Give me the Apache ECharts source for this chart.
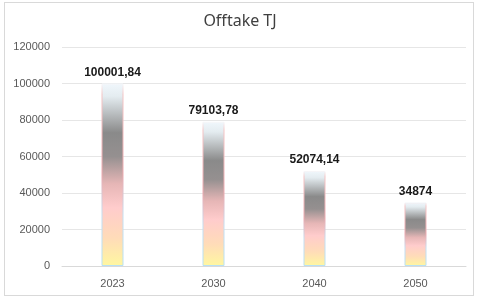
<!DOCTYPE html>
<html><head><meta charset="utf-8">
<script src="https://cdn.jsdelivr.net/npm/echarts@6/dist/echarts.min.js"></script>
<style>
html,body{margin:0;padding:0;background:#fff;}
#wrap{position:absolute;left:4px;top:2px;width:470px;height:294px;border:1px solid #d9d9d9;box-sizing:border-box;}
#c{position:absolute;left:0;top:0;width:480px;height:300px;}
</style></head>
<body>
<div id="wrap"></div>
<div id="c"></div>
<script>
const categories = ['2023','2030','2040','2050'];
const values = [100001.84, 79103.78, 52074.14, 34874];
const yTicks = [0, 20000, 40000, 60000, 80000, 100000, 120000];

const chart = echarts.init(document.getElementById('c'));
const barGrad = new echarts.graphic.LinearGradient(0,0,0,1,[
  {offset:0, color:'#f0f7fc'},
  {offset:0.07, color:'#e4ecf0'},
  {offset:0.27, color:'#8a8a8a'},
  {offset:0.40, color:'#959090'},
  {offset:0.55, color:'#e6b6b6'},
  {offset:0.68, color:'#ffcccc'},
  {offset:0.85, color:'#ffdcb8'},
  {offset:1, color:'#fff7a0'}
]);
const borderGrad = new echarts.graphic.LinearGradient(0,0,0,1,[
  {offset:0, color:'#f6fafd'},
  {offset:0.06, color:'#f4c4c4'},
  {offset:0.5, color:'#eeaab0'},
  {offset:0.72, color:'#c4e0f2'},
  {offset:1, color:'#b8e0f4'}
]);
chart.setOption({
  animation:false,
  title:{text:'Offtake TJ', left:'center', top:8,
    textStyle:{fontFamily:'Noto Sans', fontSize:16, fontWeight:'normal', color:'#404040'}},
  grid:{left:62, right:14, top:47, bottom:34},
  xAxis:{type:'category', data:categories,
    axisLine:{lineStyle:{color:'#d9d9d9', width:1}},
    axisTick:{show:false},
    axisLabel:{color:'#595959', fontFamily:'Liberation Sans', fontSize:11, margin:12}},
  yAxis:{type:'value', min:yTicks[0], max:yTicks[yTicks.length-1], interval:20000,
    axisLine:{show:false}, axisTick:{show:false},
    splitLine:{lineStyle:{color:'#e6e6e6', width:1}},
    axisLabel:{color:'#595959', fontFamily:'Liberation Sans', fontSize:11, margin:12,
      formatter:v=>String(v)}},
  series:[{type:'bar', data:values, barWidth:22,
    itemStyle:{color:barGrad, borderColor:borderGrad, borderWidth:1},
    label:{show:true, position:'top', distance:5,
      fontFamily:'Liberation Sans', fontWeight:'bold', fontSize:12, color:'#1a1a1a',
      formatter:p=>String(p.value).replace('.',',')}
  }]
});
</script>
</body></html>
